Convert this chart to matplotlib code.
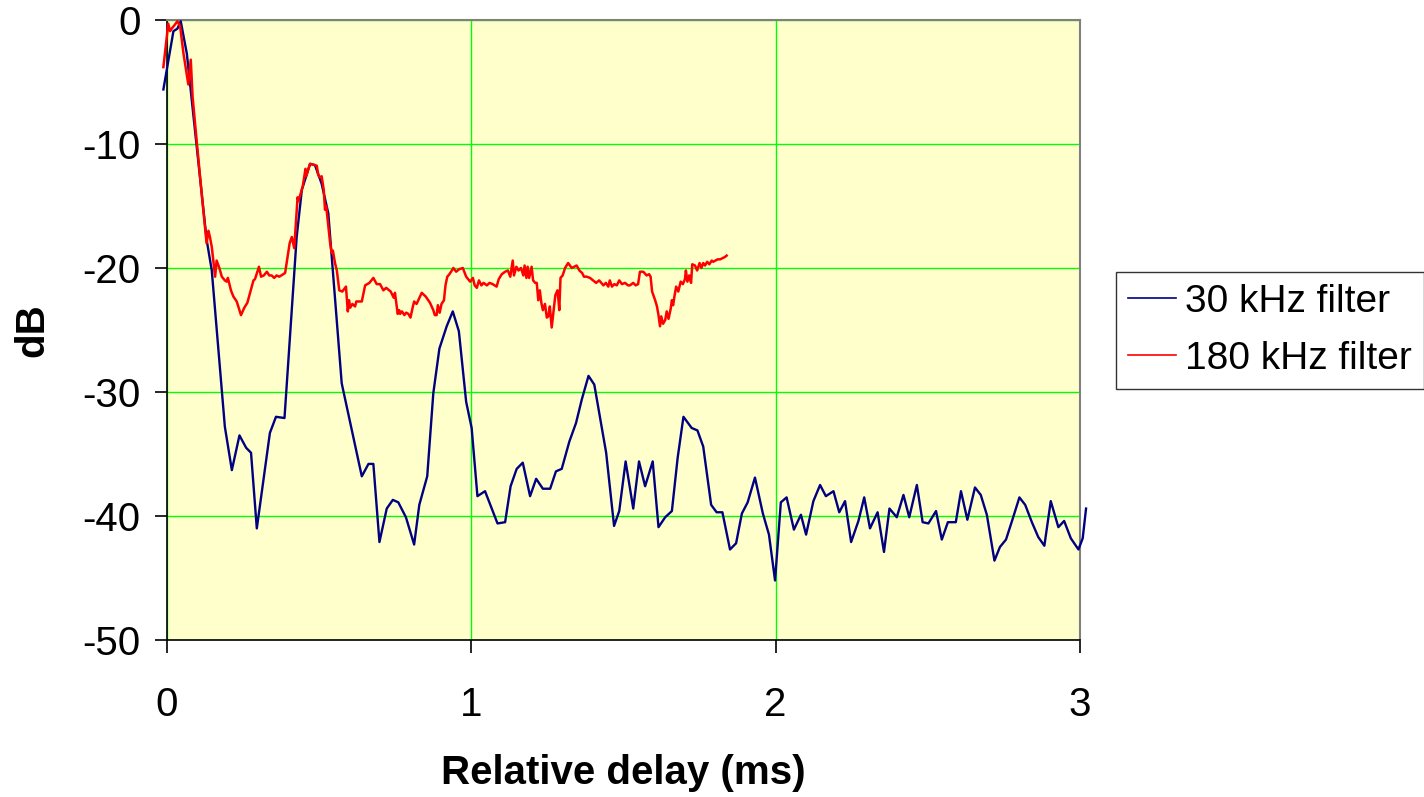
import matplotlib.pyplot as plt

plt.rcParams['font.family'] = ['Liberation Sans', 'DejaVu Sans']

# 30 kHz filter (blue)
delay_30 = [-0.012, 0.021, 0.034, 0.045, 0.065, 0.130, 0.147, 0.190, 0.213, 0.238,
            0.260, 0.276, 0.295, 0.338, 0.358, 0.386, 0.426, 0.443, 0.470, 0.486,
            0.508, 0.530, 0.574, 0.640, 0.662, 0.678, 0.698, 0.722, 0.742, 0.760,
            0.785, 0.812, 0.829, 0.855, 0.875, 0.895, 0.919, 0.939, 0.959, 0.983,
            1.001, 1.020, 1.045, 1.064, 1.086, 1.111, 1.129, 1.149, 1.169, 1.193,
            1.213, 1.235, 1.259, 1.278, 1.297, 1.322, 1.344, 1.363, 1.385, 1.404,
            1.443, 1.469, 1.486, 1.507, 1.532, 1.551, 1.571, 1.596, 1.615, 1.637,
            1.659, 1.678, 1.697, 1.724, 1.743, 1.762, 1.788, 1.806, 1.825, 1.850,
            1.870, 1.889, 1.908, 1.932, 1.958, 1.978, 1.998, 2.017, 2.036, 2.060,
            2.083, 2.100, 2.124, 2.146, 2.165, 2.190, 2.209, 2.228, 2.248, 2.272,
            2.291, 2.310, 2.335, 2.356, 2.374, 2.398, 2.420, 2.439, 2.464, 2.483,
            2.502, 2.527, 2.546, 2.566, 2.592, 2.609, 2.630, 2.655, 2.674, 2.694,
            2.719, 2.737, 2.757, 2.778, 2.801, 2.820, 2.842, 2.863, 2.883, 2.904,
            2.929, 2.948, 2.970, 2.995, 3.009, 3.020]
db_30 = [-5.6, -0.9, -0.7, -0.1, -2.7, -17.7, -20.2, -32.8, -36.3, -33.5,
         -34.5, -34.9, -41.0, -33.3, -32.0, -32.1, -17.5, -13.7, -11.6, -11.7,
         -13.2, -15.6, -29.3, -36.8, -35.8, -35.8, -42.1, -39.4, -38.7, -38.9,
         -40.1, -42.3, -39.1, -36.8, -30.1, -26.5, -24.7, -23.5, -25.1, -30.8,
         -32.9, -38.4, -38.0, -39.2, -40.6, -40.5, -37.6, -36.2, -35.7, -38.4,
         -37.0, -37.8, -37.8, -36.4, -36.2, -34.0, -32.5, -30.6, -28.7, -29.4,
         -34.9, -40.8, -39.6, -35.6, -39.4, -35.6, -37.6, -35.6, -40.9, -40.1,
         -39.6, -35.3, -32.0, -32.9, -33.1, -34.4, -39.1, -39.7, -39.7, -42.7,
         -42.2, -39.8, -38.9, -36.9, -39.8, -41.5, -45.2, -38.9, -38.5, -41.1,
         -39.9, -41.5, -38.8, -37.5, -38.4, -38.0, -39.7, -38.8, -42.1, -40.4,
         -38.5, -41.0, -39.7, -42.9, -39.4, -40.1, -38.3, -40.1, -37.5, -40.5,
         -40.6, -39.6, -41.9, -40.5, -40.5, -38.0, -40.3, -37.7, -38.3, -39.9,
         -43.6, -42.5, -41.9, -40.3, -38.5, -39.1, -40.5, -41.7, -42.4, -38.8,
         -40.9, -40.4, -41.8, -42.7, -41.8, -39.4]

# 180 kHz filter (red)
delay_180 = [-0.012, 0.004, 0.010, 0.015, 0.025, 0.034, 0.043, 0.054, 0.070, 0.078,
             0.084, 0.098, 0.117, 0.130, 0.136, 0.141, 0.147, 0.158, 0.163, 0.172,
             0.180, 0.190, 0.196, 0.200, 0.210, 0.218, 0.229, 0.243, 0.254, 0.264,
             0.284, 0.289, 0.302, 0.309, 0.318, 0.328, 0.336, 0.344, 0.352, 0.360,
             0.369, 0.388, 0.403, 0.410, 0.418, 0.429, 0.432, 0.446, 0.455, 0.457,
             0.470, 0.485, 0.492, 0.497, 0.503, 0.508, 0.515, 0.519, 0.523, 0.536,
             0.541, 0.545, 0.552, 0.558, 0.566, 0.576, 0.588, 0.594, 0.598, 0.602,
             0.609, 0.618, 0.622, 0.640, 0.651, 0.665, 0.678, 0.689, 0.700, 0.711,
             0.720, 0.735, 0.745, 0.749, 0.758, 0.763, 0.766, 0.772, 0.780, 0.786,
             0.793, 0.800, 0.807, 0.812, 0.820, 0.837, 0.850, 0.864, 0.875, 0.880,
             0.886, 0.890, 0.896, 0.902, 0.910, 0.915, 0.921, 0.928, 0.941, 0.950,
             0.960, 0.972, 0.983, 0.996, 1.005, 1.011, 1.018, 1.025, 1.033, 1.040,
             1.051, 1.060, 1.070, 1.083, 1.090, 1.100, 1.111, 1.120, 1.128, 1.136,
             1.140, 1.148, 1.155, 1.163, 1.171, 1.175, 1.181, 1.185, 1.190, 1.198,
             1.203, 1.210, 1.215, 1.220, 1.225, 1.230, 1.235, 1.242, 1.248, 1.253,
             1.258, 1.264, 1.270, 1.276, 1.283, 1.286, 1.289, 1.293, 1.300, 1.308,
             1.318, 1.330, 1.346, 1.355, 1.364, 1.370, 1.379, 1.390, 1.400, 1.410,
             1.420, 1.434, 1.442, 1.450, 1.455, 1.462, 1.470, 1.478, 1.486, 1.495,
             1.505, 1.515, 1.521, 1.532, 1.540, 1.548, 1.554, 1.565, 1.576, 1.584,
             1.589, 1.594, 1.604, 1.610, 1.615, 1.620, 1.624, 1.630, 1.637, 1.642,
             1.648, 1.655, 1.659, 1.663, 1.668, 1.673, 1.680, 1.688, 1.695, 1.702,
             1.705, 1.710, 1.716, 1.722, 1.726, 1.735, 1.742, 1.750, 1.756, 1.762,
             1.768, 1.775, 1.782, 1.790, 1.795, 1.802, 1.810, 1.818, 1.826, 1.834,
             1.839]
db_180 = [-3.8, -0.3, -0.9, -0.7, -0.4, -0.1, -0.5, -2.7, -5.2, -3.2,
          -6.2, -9.9, -14.8, -18.0, -17.0, -17.5, -18.3, -20.7, -19.4, -20.0,
          -20.7, -21.0, -21.1, -20.8, -21.8, -22.3, -22.7, -23.8, -23.2, -22.8,
          -21.0, -20.9, -19.9, -20.7, -20.6, -20.3, -20.6, -20.6, -20.8, -20.6,
          -20.7, -20.4, -18.0, -17.5, -18.4, -14.3, -14.6, -13.4, -12.0, -12.6,
          -11.6, -11.7, -11.75, -12.5, -12.7, -12.6, -13.7, -15.3, -15.0, -18.0,
          -18.8, -18.6, -19.6, -20.2, -21.8, -21.9, -21.5, -23.5, -22.6, -23.2,
          -22.9, -23.1, -22.7, -22.7, -21.4, -21.2, -20.8, -21.3, -21.3, -21.8,
          -21.6, -21.9, -22.4, -22.0, -23.7, -23.4, -23.7, -23.5, -23.8, -23.6,
          -23.7, -24.0, -23.2, -22.7, -22.9, -22.0, -22.3, -22.8, -23.4, -23.8,
          -23.8, -23.0, -23.6, -22.9, -22.6, -21.4, -20.7, -20.5, -20.0, -20.3,
          -20.1, -20.0, -20.7, -21.1, -20.8, -21.4, -21.6, -21.0, -21.4, -21.2,
          -21.4, -21.2, -21.3, -21.5, -20.9, -20.5, -20.3, -20.2, -20.7, -19.4,
          -20.6, -19.9, -20.2, -20.0, -20.6, -19.8, -20.8, -19.9, -20.8, -19.9,
          -21.0, -21.2, -21.2, -22.6, -21.8, -22.8, -23.4, -22.9, -24.0, -23.9,
          -23.1, -24.8, -23.5, -22.2, -21.8, -22.5, -23.4, -20.8, -20.6, -20.0,
          -19.6, -20.0, -19.8, -20.2, -20.4, -20.7, -20.7, -20.8, -21.0, -21.2,
          -21.0, -21.4, -21.2, -21.5, -21.0, -21.5, -21.3, -21.4, -21.0, -21.3,
          -21.2, -21.4, -21.4, -21.2, -21.4, -21.3, -20.3, -20.3, -20.6, -20.5,
          -20.7, -21.9, -22.6, -23.1, -23.8, -24.7, -23.9, -24.5, -24.2, -23.5,
          -24.1, -23.3, -22.6, -23.0, -22.2, -21.5, -21.9, -21.1, -21.3, -20.9,
          -20.2, -21.1, -20.6, -21.2, -19.7, -19.8, -20.2, -19.6, -20.0, -19.6,
          -19.8, -19.5, -19.7, -19.4, -19.5, -19.4, -19.3, -19.3, -19.2, -19.1,
          -19.0]

x_ticks = [0, 1, 2, 3]
y_ticks = [0, -10, -20, -30, -40, -50]
y_tick_labels = ['0', '-10', '-20', '-30', '-40', '-50']

fig = plt.figure(figsize=(14.24, 7.97), dpi=100)
ax = fig.add_axes([0.1173, 0.197, 0.6411, 0.7779])
ax.set_facecolor('#FFFFCC')

ax.plot(delay_30, db_30, color='#000080', lw=1.7, label='30 kHz filter', clip_on=False, zorder=3)
ax.plot(delay_180, db_180, color='#FF0000', lw=1.8, label='180 kHz filter', clip_on=False, zorder=4)

ax.set_xlim(0, 3)
ax.set_ylim(-50, 0)
ax.set_xticks(x_ticks)
ax.set_yticks(y_ticks)
ax.set_yticklabels(y_tick_labels)
ax.grid(True, color='#00FF00', lw=1.0)
ax.set_axisbelow(True)

for side in ['top', 'right']:
    ax.spines[side].set_color('#808080')
    ax.spines[side].set_linewidth(1.5)
for side in ['left', 'bottom']:
    ax.spines[side].set_color('black')
    ax.spines[side].set_linewidth(1.2)

ax.tick_params(axis='both', labelsize=29, direction='out', length=9, width=1.2)
ax.tick_params(axis='x', pad=24)
ax.tick_params(axis='y', pad=10)

ax.set_xlabel('Relative delay (ms)', fontsize=29, fontweight='bold', labelpad=22)
ax.set_ylabel('dB', fontsize=29, fontweight='bold', labelpad=22)

leg = fig.legend(loc='upper left', bbox_to_anchor=(1116 / 1424, 1 - 272 / 797),
                 fontsize=28, frameon=True, fancybox=False, edgecolor='black',
                 handlelength=1.23, handletextpad=0.23, borderpad=0.31, labelspacing=0.53,
                 borderaxespad=0)
leg.get_frame().set_linewidth(1.0)
for line in leg.get_lines():
    line.set_linewidth(1.2)

fig.savefig('out.png', dpi=100)
